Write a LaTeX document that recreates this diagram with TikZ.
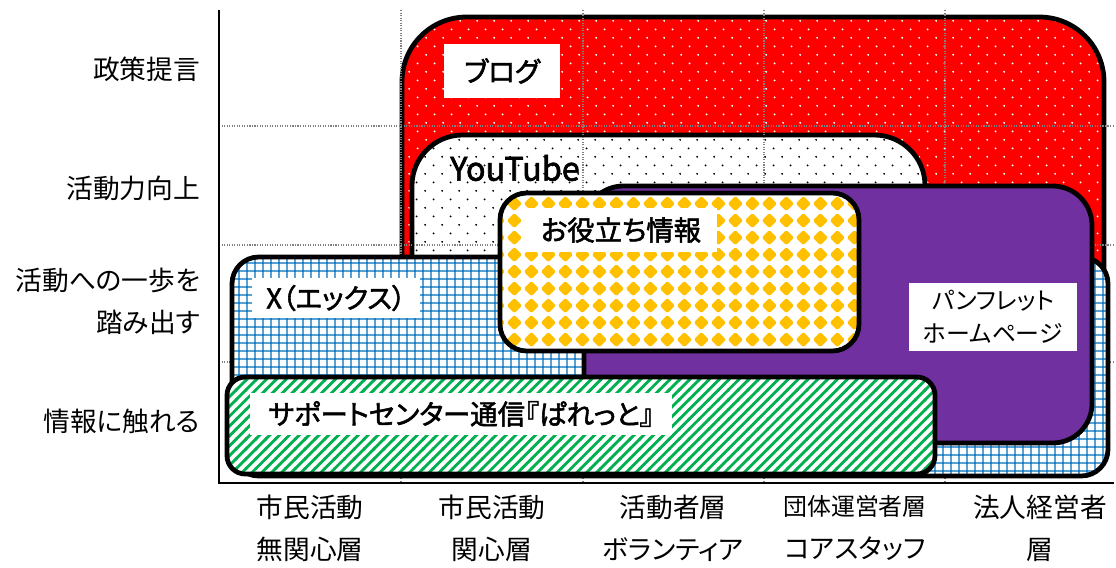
\documentclass[tikz,border=0pt]{standalone}
\usepackage{fontspec}
\setmainfont{Noto Sans CJK JP}[RawFeature=+palt]
\newfontfamily\tagfont{Noto Sans CJK JP}[RawFeature=+palt, FakeBold=2]
\usetikzlibrary{patterns.meta}

\definecolor{blogred}{HTML}{FF0000}
\definecolor{xblue}{HTML}{0070C0}
\definecolor{infoyellow}{HTML}{FFC000}
\definecolor{paperpurple}{HTML}{7030A0}
\definecolor{newsgreen}{HTML}{00B050}

% Fill patterns
\tikzdeclarepattern{
  name=staggered dots,
  type=uncolored,
  bottom left={(0pt,0pt)},
  top right={(12pt,12pt)},
  tile size={(12pt,12pt)},
  code={
    \fill (3pt,3pt) circle (0.75pt);
    \fill (9pt,9pt) circle (0.75pt);
  }
}
\tikzdeclarepattern{
  name=fine grid,
  type=uncolored,
  bottom left={(0pt,0pt)},
  top right={(6pt,6pt)},
  tile size={(6pt,6pt)},
  code={
    \draw[line width=1pt] (3pt,0pt) -- (3pt,6pt) (0pt,3pt) -- (6pt,3pt);
  }
}
\tikzdeclarepattern{
  name=wide stripes,
  type=uncolored,
  bottom left={(-1pt,-1pt)},
  top right={(8pt,8pt)},
  tile size={(7pt,7pt)},
  code={
    \draw[line width=2pt] (-1pt,-1pt) -- (8pt,8pt);
  }
}
\tikzdeclarepattern{
  name=diamond tiles,
  type=uncolored,
  bottom left={(0pt,0pt)},
  top right={(12pt,12pt)},
  tile size={(12pt,12pt)},
  code={
    \fill[rounded corners=1pt] (6pt,0.6pt) -- (11.4pt,6pt) -- (6pt,11.4pt) -- (0.6pt,6pt) -- cycle;
  }
}

\begin{document}
\begin{tikzpicture}[x=0.025cm, y=-0.025cm,
  box/.style={draw=black, line width=3.4pt},
  grid line/.style={gray, densely dotted, line width=0.8pt},
  tag/.style={fill=white, inner sep=0pt, font=\tagfont\fontsize{19.5pt}{24pt}\selectfont},
  level/.style={anchor=east, align=right, font=\fontsize{19pt}{30pt}\selectfont},
  group/.style={align=center, font=\fontsize{19pt}{30pt}\selectfont},
]
\useasboundingbox (0,0) rectangle (1116,567);

% Back boxes
\draw[box, rounded corners=46pt, preaction={fill=blogred},
  pattern={staggered dots}, pattern color=white] (402,17) rectangle (1104,420);
\draw[box, rounded corners=36pt, preaction={fill=white},
  pattern={staggered dots}, pattern color=black] (412,135) rectangle (925,420);

% Grid
\foreach \gy in {126,245,362}
  \draw[grid line] (219,\gy) -- (1114,\gy);
\foreach \gx in {401,583,764,945}
  \draw[grid line] (\gx,10) -- (\gx,483);

% Front boxes
\draw[box, rounded corners=19pt, preaction={fill=white},
  pattern={fine grid}, pattern color=xblue] (232,257) rectangle (1108,476);
\draw[box, rounded corners=28pt, fill=paperpurple] (584,186) rectangle (1092,443);
\draw[box, rounded corners=19pt, preaction={fill=white},
  pattern={diamond tiles}, pattern color=infoyellow] (500,193) rectangle (859,351);
\draw[box, rounded corners=13pt, preaction={fill=white},
  pattern={wide stripes}, pattern color=newsgreen] (227,377) rectangle (935,474);

% Axes
\draw[line width=1.5pt] (219,10) -- (219,483) -- (1114,483);

% Box labels
\node[tag, minimum width=2.88cm, minimum height=1.33cm] (blogtag) at (502,71) {ブログ};
\node[font=\tagfont\fontsize{23pt}{26pt}\selectfont] (yttag) at (515,168) {YouTube};
\node[tag, minimum width=4.8cm, minimum height=1.1cm] (infotag) at (621,230) {お役立ち情報};
\node[tag, minimum width=4.2cm, minimum height=1cm] (xtag) at (336,298) {X（エックス）};
\node[tag, minimum width=10.55cm, minimum height=1.05cm] (newstag) at (461,414) {サポートセンター通信『ぱれっと』};
\node[tag, minimum width=4.2cm, minimum height=1.7cm, align=center,
  font=\fontsize{17pt}{23.5pt}\selectfont] (papertag) at (993,317) {パンフレット\\ホームページ};

% Levels
\node[level] (lv4) at (205,69) {政策提言};
\node[level] (lv3) at (205,188) {活動力向上};
\node[level] (lv2) at (205,301) {活動への一歩を\\踏み出す};
\node[level] (lv1) at (205,421) {情報に触れる};

% Groups
\node[group] (gr1) at (310,528) {市民活動\\無関心層};
\node[group] (gr2) at (492,528) {市民活動\\関心層};
\node[group] (gr3) at (673,528) {活動者層\\ボランティア};
\node[group] (gr4) at (855,528) {{\fontsize{17pt}{30pt}\selectfont 団体運営者層}\\コアスタッフ};
\node[group] (gr5) at (1040,528) {法人経営者\\層};
\end{tikzpicture}
\end{document}
